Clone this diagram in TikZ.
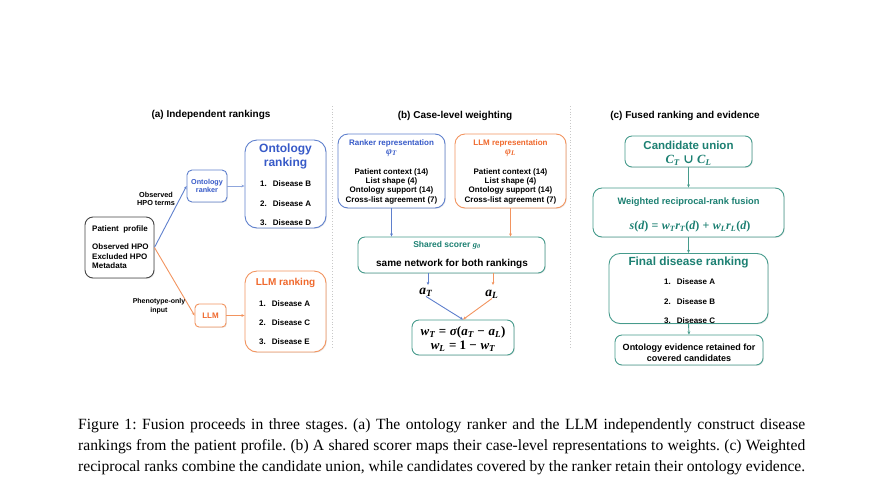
\documentclass[tikz,border=0pt]{standalone}
\usepackage{fontspec}
\setmainfont{Liberation Sans}
\newfontfamily\capfont{Liberation Serif}
\newfontfamily\symfont{DejaVu Serif}
\usetikzlibrary{arrows.meta,shadows}
\definecolor{cblue}{RGB}{55,90,200}
\definecolor{cbluel}{RGB}{95,128,205}
\definecolor{corange}{RGB}{240,105,45}
\definecolor{corangel}{RGB}{242,148,95}
\definecolor{cteal}{RGB}{28,128,114}
\definecolor{ctealb}{RGB}{70,155,140}
\definecolor{cgray}{RGB}{70,70,70}
\definecolor{cdiv}{RGB}{200,200,200}
\newcommand\fz[2]{\bfseries\fontsize{#1}{#2}\selectfont}
\newcommand\mv[1]{{\capfont\bfseries\itshape #1}}
\newcommand\mr[1]{{\capfont\bfseries #1}}
\newcommand\msub[1]{\textsubscript{\mv{#1}}}
\frenchspacing
\begin{document}
\begin{tikzpicture}[x=1pt,y=-1pt,
  box/.style={draw=#1,line width=0.9pt,rounded corners=7pt,fill=white,inner sep=0pt,
    drop shadow={opacity=0.18,shadow xshift=0.9pt,shadow yshift=-0.9pt}},
  txt/.style={inner sep=0pt},
  conn/.style={line width=0.9pt,draw=#1,-{Stealth[length=3.2pt,width=2.8pt]}},
  divider/.style={draw=cdiv,line width=0.8pt,dotted},
  capline/.style={anchor=base west,inner sep=0pt,font=\capfont\fontsize{15.6}{18}\selectfont},
]
\useasboundingbox (0,0) rectangle (877,496);
% dividers
\coordinate (d1a) at (332,106); \coordinate (d1b) at (332,348);
\coordinate (d2a) at (570,106); \coordinate (d2b) at (570,348);
\draw[divider] (d1a) -- (d1b);
\draw[divider] (d2a) -- (d2b);
% titles
\node[txt,font=\fz{10}{12}] (ta) at (211,115) {(a) Independent rankings};
\node[txt,font=\fz{10}{12}] (tb) at (455,116) {(b) Case-level weighting};
\node[txt,font=\fz{10}{12}] (tc) at (685,116) {(c) Fused ranking and evidence};

% ---------- (a) ----------
\node[box=cgray,minimum width=69pt,minimum height=61pt,rounded corners=8pt] (prof) at (119.5,247.5) {};
\node[txt,anchor=west,font=\fz{8}{9.6}] (proft) at (92,229) {Patient\ \ profile};
\node[txt,anchor=north west,align=left,font=\fz{8}{9.6}] (profl) at (92,243.5) {Observed HPO\\Excluded HPO\\Metadata};

\node[box=cbluel,minimum width=40pt,minimum height=32pt,rounded corners=5pt] (ontr) at (207,186) {};
\node[txt,align=center,text=cblue,font=\fz{7.2}{8.6}] (ontrt) at (207,186) {Ontology\\ranker};

\node[box=corangel,minimum width=31pt,minimum height=23pt,rounded corners=4pt] (llm) at (210.5,315.5) {};
\node[txt,text=corange,font=\fz{8}{9.6}] (llmt) at (210.5,315.5) {LLM};

\node[box=cbluel,minimum width=81pt,minimum height=88pt,rounded corners=12pt] (ontrank) at (285.5,184) {};
\node[txt,align=center,text=cblue,font=\fz{12}{14}] (ontrankt) at (285.5,156) {Ontology\\ranking};
\node[txt,anchor=west,font=\fz{8}{9.6}] (o1) at (260,184) {1.\hspace{6pt}Disease B};
\node[txt,anchor=west,font=\fz{8}{9.6}] (o2) at (260,204) {2.\hspace{6pt}Disease A};
\node[txt,anchor=west,font=\fz{8}{9.6}] (o3) at (260,223) {3.\hspace{6pt}Disease D};

\node[box=corangel,minimum width=81pt,minimum height=81pt,rounded corners=12pt] (llmrank) at (285.5,311.5) {};
\node[txt,text=corange,font=\fz{10}{12}] (llmrankt) at (285.5,283) {LLM ranking};
\node[txt,anchor=west,font=\fz{8}{9.6}] (l1) at (259,304) {1.\hspace{6pt}Disease A};
\node[txt,anchor=west,font=\fz{8}{9.6}] (l2) at (259,323) {2.\hspace{6pt}Disease C};
\node[txt,anchor=west,font=\fz{8}{9.6}] (l3) at (259,342) {3.\hspace{6pt}Disease E};

\draw[conn=cbluel] (prof.east) -- (ontr.west);
\draw[conn=corangel] (prof.east) -- (llm.west);
\draw[conn=cbluel!70] (ontr.east) -- (ontr.east -| ontrank.west);
\draw[conn=corangel] (llm.east) -- (llm.east -| llmrank.west);
\node[txt,align=center,font=\fz{7.3}{8.3}] (obs) at (156,199) {Observed\\HPO terms};
\node[txt,align=center,font=\fz{7}{8.8}] (pheno) at (159,306.5) {Phenotype-only\\input};

% ---------- (b) ----------
\node[box=cbluel,minimum width=107pt,minimum height=74pt,rounded corners=10pt] (rrep) at (391.5,171) {};
\node[txt,text=cblue,font=\fz{8}{9.6}] (rrept) at (391.5,143) {Ranker representation};
\node[txt,text=cblue,font=\fz{10}{10}] (rrepp) at (391.5,153) {\mv{φ}\msub{T}};
\node[txt,align=center,font=\fz{8}{9.3}] (rrepl) at (391.5,186) {Patient context (14)\\List shape (4)\\Ontology support (14)\\Cross-list agreement (7)};

\node[box=corangel,minimum width=111pt,minimum height=74pt,rounded corners=10pt] (lrep) at (510.5,171) {};
\node[txt,text=corange,font=\fz{8}{9.6}] (lrept) at (510.5,143) {LLM representation};
\node[txt,text=corange,font=\fz{10}{10}] (lrepp) at (510.5,153) {\mv{φ}\msub{L}};
\node[txt,align=center,font=\fz{8}{9.3}] (lrepl) at (510.5,186) {Patient context (14)\\List shape (4)\\Ontology support (14)\\Cross-list agreement (7)};

\node[box=ctealb,minimum width=187pt,minimum height=36pt] (scorer) at (451.5,255) {};
\node[txt,text=cteal,font=\fz{8.5}{9.6}] (scorert) at (447,245) {Shared scorer \mv{g}\msub{θ}};
\node[txt,font=\fz{10}{12}] (scorerl) at (452,264) {same network for both rankings};

\draw[conn=cbluel] (rrep.south) -- (rrep.south |- scorer.north);
\draw[conn=corangel] (lrep.south) -- (lrep.south |- scorer.north);

\node[txt,font=\fz{13.5}{14}] (aT) at (426,292) {\mv{a}\msub{T}};
\node[txt,font=\fz{13.5}{14}] (aL) at (492,294) {\mv{a}\msub{L}};
\coordinate (aTe) at (428,285);
\coordinate (aLe) at (493,285);
\draw[conn=cbluel] (aTe |- scorer.south) -- (aTe);
\draw[conn=corangel] (aLe |- scorer.south) -- (aLe);

\node[box=ctealb,minimum width=102pt,minimum height=35pt] (wbox) at (463,337.5) {};
\node[txt,align=center,font=\fz{13}{14}] (wboxt) at (463,339) {\mv{w}\msub{T} \mr{=} \mv{σ}\mr{(}\mv{a}\msub{T} \mr{−} \mv{a}\msub{L}\mr{)}\\\mv{w}\msub{L} \mr{= 1 −} \mv{w}\msub{T}};
\draw[conn=cbluel] (aT.south) -- (wbox.north);
\draw[conn=corangel] (aL.south) -- (wbox.north);

% ---------- (c) ----------
\node[box=ctealb,minimum width=127pt,minimum height=31pt] (cu) at (688.5,151.5) {};
\node[txt,text=cteal,font=\fz{11.5}{13}] (cut) at (688.5,145) {Candidate union};
\node[txt,text=cteal,font=\fz{12.5}{12}] (cuf) at (688.5,160) {\mv{C}\msub{T} {\symfont\bfseries ∪} \mv{C}\msub{L}};

\node[box=ctealb,minimum width=191pt,minimum height=49pt,rounded corners=9pt] (rrf) at (688.5,212.5) {};
\node[txt,text=cteal,font=\fz{9.3}{11}] (rrft) at (688.5,202) {Weighted reciprocal-rank fusion};
\node[txt,text=cteal,font=\fz{12}{12}] (rrff) at (690,227) {\mv{s}\mr{(}\mv{d}\mr{)} \mr{=} \mv{w}\msub{T}\mv{r}\msub{T}\mr{(}\mv{d}\mr{)} \mr{+} \mv{w}\msub{L}\mv{r}\msub{L}\mr{(}\mv{d}\mr{)}};

\node[box=ctealb,minimum width=159pt,minimum height=70pt,rounded corners=11pt] (final) at (688.5,288.5) {};
\node[txt,text=cteal,font=\fz{11.8}{13}] (finalt) at (688.5,262) {Final disease ranking};
\node[txt,anchor=west,font=\fz{8}{9.6}] (f1) at (664,282) {1.\hspace{6pt}Disease A};
\node[txt,anchor=west,font=\fz{8}{9.6}] (f2) at (664,301.5) {2.\hspace{6pt}Disease B};
\node[txt,anchor=west,font=\fz{8}{9.6}] (f3) at (664,320.5) {3.\hspace{6pt}Disease C};

\node[box=ctealb,minimum width=148pt,minimum height=30pt] (evid) at (689,350) {};
\node[txt,align=center,font=\fz{9}{10.5}] (evidt) at (689,353) {Ontology evidence retained for\\covered candidates};

\draw[conn=ctealb] (cu.south) -- (rrf.north);
\draw[conn=ctealb] (rrf.south) -- (final.north);
\draw[conn=ctealb] (final.south) -- (evid.north);

% ---------- caption ----------
\node[capline] (cap1) at (78,429) {\makebox[727pt][s]{Figure 1: Fusion proceeds in three stages. (a) The ontology ranker and the LLM independently construct disease}};
\node[capline] (cap2) at (78,450) {\makebox[727pt][s]{rankings from the patient profile. (b) A shared scorer maps their case-level representations to weights. (c) Weighted}};
\node[capline] (cap3) at (78,471) {\makebox[727pt][s]{reciprocal ranks combine the candidate union, while candidates covered by the ranker retain their ontology evidence.}};
\end{tikzpicture}
\end{document}
